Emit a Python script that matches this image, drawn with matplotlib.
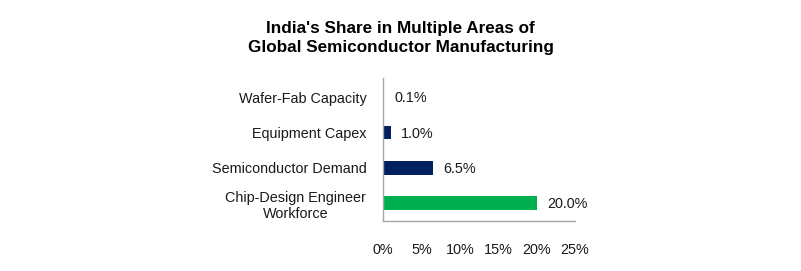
import matplotlib.pyplot as plt

plt.rcParams['font.family'] = ['Liberation Sans', 'DejaVu Sans']

categories = ['Chip-Design Engineer\nWorkforce', 'Semiconductor Demand', 'Equipment Capex', 'Wafer-Fab Capacity']
shares = [20.0, 6.5, 1.0, 0.1]
colors = ['#00B050', '#002060', '#002060', '#002060']
xticks = [0, 5, 10, 15, 20, 25]

fig = plt.figure(figsize=(8.01, 2.71), dpi=100)
ax = fig.add_axes([383/801, 1 - 221/271, 192/801, (221 - 78)/271])

ax.barh(range(len(categories)), shares, height=0.38, color=colors)
for i, v in enumerate(shares):
    ax.text(v + 1.35, i - 0.02, f'{v:.1f}%', va='center', ha='left', fontsize=10.4, color='#1a1a1a')

ax.set_xlim(0, 25)
ax.set_ylim(-0.51, 3.56)
ax.set_yticks(range(len(categories)))
ax.set_yticklabels(categories, fontsize=10.4, multialignment='center', color='#1a1a1a')
ax.set_xticks(xticks)
ax.set_xticklabels([f'{t}%' for t in xticks], fontsize=10.4, color='#1a1a1a')
ax.tick_params(axis='both', length=0)
ax.tick_params(axis='y', pad=12)
ax.tick_params(axis='x', pad=16)
for s in ['top', 'right']:
    ax.spines[s].set_visible(False)
for s in ['left', 'bottom']:
    ax.spines[s].set_color('#A6A6A6')
    ax.spines[s].set_linewidth(1.0)

fig.text(0.5, 1 - 38/271, "India's Share in Multiple Areas of\nGlobal Semiconductor Manufacturing",
         ha='center', va='center', fontsize=12.3, fontweight='bold', linespacing=1.4)

fig.savefig('out.png', dpi=100)
